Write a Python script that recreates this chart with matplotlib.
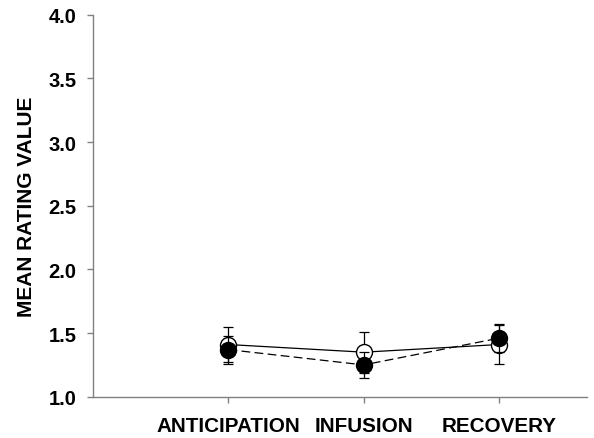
import numpy as np
import matplotlib.pyplot as plt

plt.rcParams['font.family'] = ['Liberation Sans', 'DejaVu Sans']

phases = ['ANTICIPATION', 'INFUSION', 'RECOVERY']
open_mean = [1.41, 1.35, 1.41]
open_err = [0.14, 0.16, 0.15]
filled_mean = [1.37, 1.25, 1.46]
filled_err = [0.11, 0.10, 0.11]

x = np.arange(1, len(phases) + 1)

fig = plt.figure(figsize=(5.94, 4.39), dpi=100)
ax = fig.add_axes([0.157, 0.094, 0.831, 0.870])

ax.errorbar(x, open_mean, yerr=open_err, fmt='-o', color='black', lw=0.9,
            mfc='white', mec='black', ms=11.5, capsize=3.6, elinewidth=0.9,
            capthick=0.9, zorder=3)
ax.errorbar(x, filled_mean, yerr=filled_err, fmt='o', ls=(0, (7, 3.5)),
            color='black', lw=0.9, mfc='black', mec='black', ms=11.5,
            capsize=3.6, elinewidth=0.9, capthick=0.9, zorder=4)

ax.set_xlim(0, 3.65)
ax.set_ylim(1.0, 4.0)
ax.set_xticks(x)
ax.set_xticklabels(phases, fontsize=14.9, fontweight='bold')
yt = np.arange(1.0, 4.01, 0.5)
ax.set_yticks(yt)
ax.set_yticklabels([f'{v:.1f}' for v in yt], fontsize=14.5, fontweight='bold')
ax.set_ylabel('MEAN RATING VALUE', fontsize=15, fontweight='bold')
ax.yaxis.set_label_coords(-0.116, 0.5)

for s in ['top', 'right']:
    ax.spines[s].set_visible(False)
for s in ['left', 'bottom']:
    ax.spines[s].set_color('#808080')
    ax.spines[s].set_linewidth(1.0)
ax.tick_params(colors='#808080', labelcolor='black', length=4, width=1.0)
ax.tick_params(axis='x', pad=10)
ax.tick_params(axis='y', pad=8)

fig.savefig('out.png', dpi=100)
